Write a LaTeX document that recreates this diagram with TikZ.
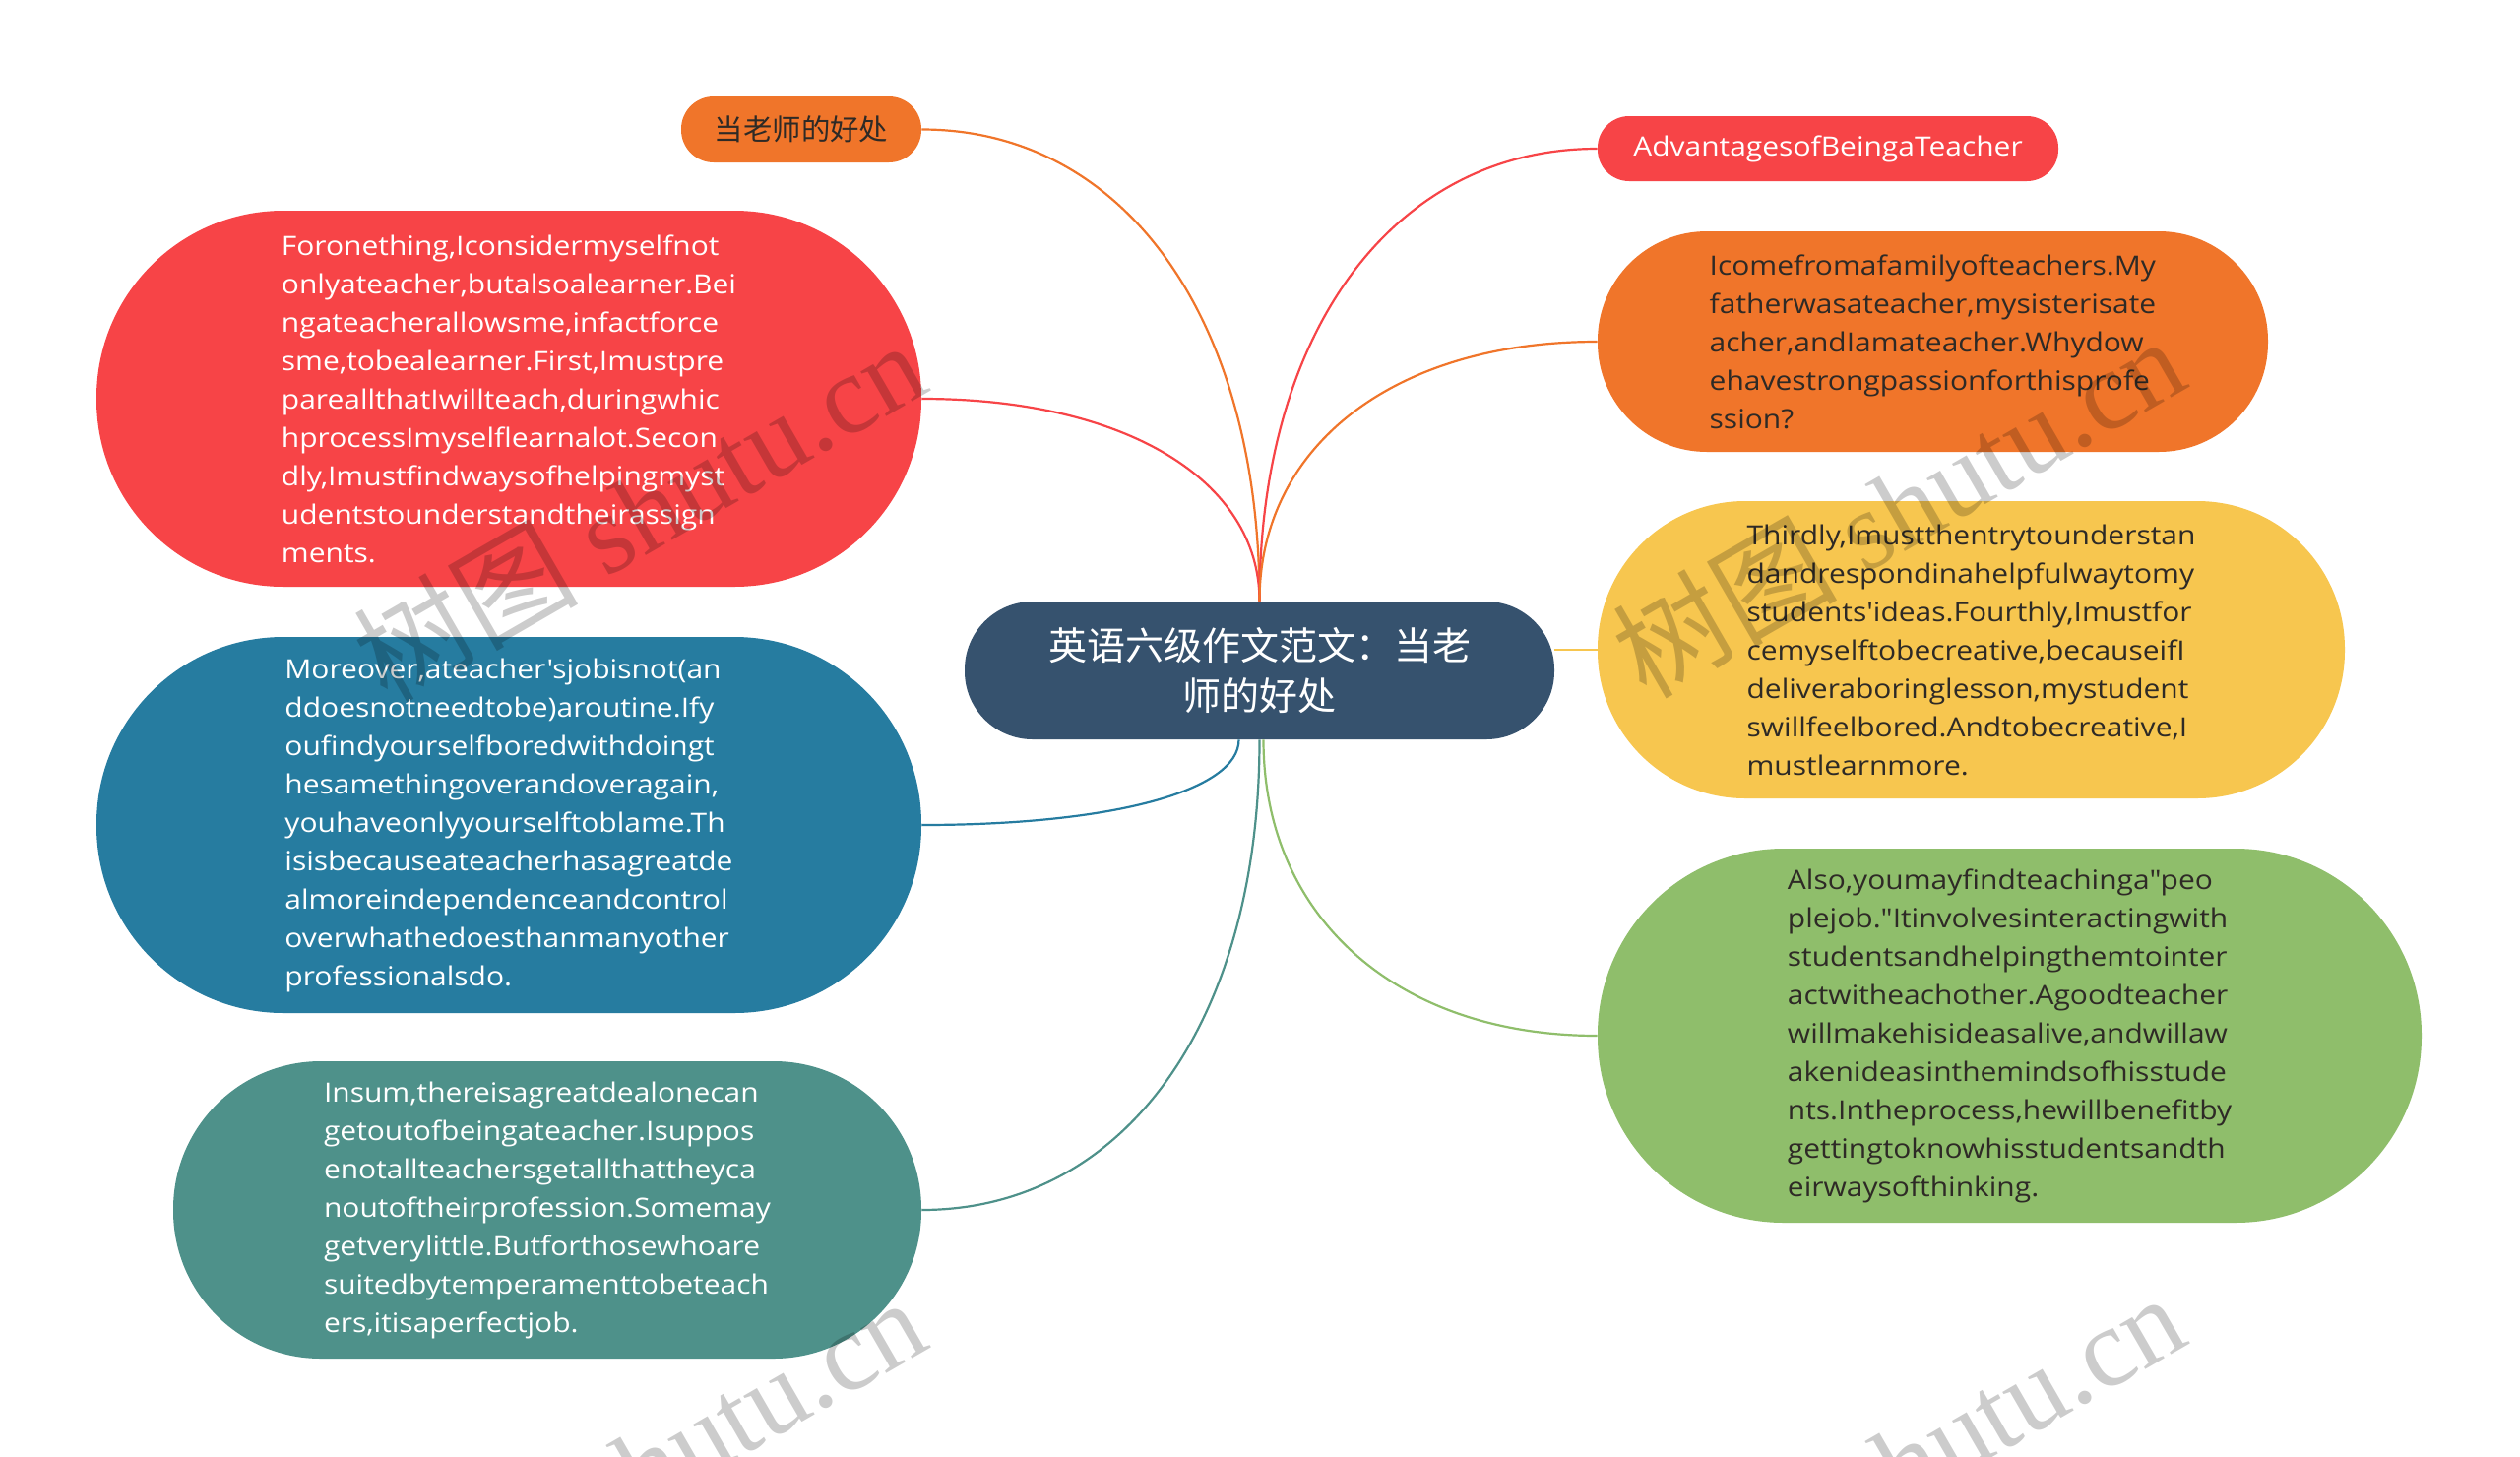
\documentclass[tikz,border=0pt]{standalone}
\usepackage{fontspec}
\usetikzlibrary{calc}
\newfontfamily\bodyfont{Open Sans}[FakeStretch=1.11]
\newfontfamily\cjk{Noto Sans CJK SC}
\newfontfamily\wmfont{Liberation Serif}
\definecolor{cRed}{HTML}{F74447}
\definecolor{cOrange}{HTML}{F0752A}
\definecolor{cYellow}{HTML}{F7C64F}
\definecolor{cGreen}{HTML}{8FBE6B}
\definecolor{cBlue}{HTML}{267CA0}
\definecolor{cTeal}{HTML}{4E918A}
\definecolor{cCenter}{HTML}{36526E}
\definecolor{cDark}{HTML}{2E2A26}
\tikzset{
  bub/.style={rectangle, draw=none, align=left, inner sep=0pt,
    font=\bodyfont\fontsize{13.5}{19.5}\selectfont},
  link/.style={line width=1.1pt},
  wm/.style={text=black, text opacity=0.2, rotate=30, inner sep=0pt,
    font=\wmfont\fontsize{57}{60}\selectfont}
}
\begin{document}
\begin{tikzpicture}[x=0.5pt,y=-0.5pt]
\useasboundingbox (0,0) rectangle (2560,1479);
\fill[white] (0,0) rectangle (2560,1479);

% center
\node[bub, fill=cCenter, text=white, align=center, minimum width=299.5pt, minimum height=70pt,
  rounded corners=34.5pt, font=\cjk\fontsize{19.5}{25.3}\selectfont] (c) at (1279.5,681)
  {英语六级作文范文：当老\\师的好处};

% left
\node[bub, fill=cOrange, text=cDark, minimum width=122pt, minimum height=33.5pt,
  rounded corners=16.5pt, font=\cjk\fontsize{14.7}{18}\selectfont] (l1) at (814,131.5) {当老师的好处};

\node[bub, fill=cRed, text=white, minimum width=419pt, minimum height=191pt,
  rounded corners=95pt] (l2) at (517,405)
  {Foronething,Iconsidermyselfnot\\
   onlyateacher,butalsoalearner.Bei\\
   ngateacherallowsme,infactforce\\
   sme,tobealearner.First,Imustpre\\
   pareallthatIwillteach,duringwhic\\
   hprocessImyselflearnalot.Secon\\
   dly,Imustfindwaysofhelpingmyst\\
   udentstounderstandtheirassign\\
   ments.};

\node[bub, fill=cBlue, text=white, minimum width=419pt, minimum height=191pt,
  rounded corners=95pt] (l3) at (517,838)
  {Moreover,ateacher'sjobisnot(an\\
   ddoesnotneedtobe)aroutine.Ify\\
   oufindyourselfboredwithdoingt\\
   hesamethingoverandoveragain,\\
   youhaveonlyyourselftoblame.Th\\
   isisbecauseateacherhasagreatde\\
   almoreindependenceandcontrol\\
   overwhathedoesthanmanyother\\
   professionalsdo.};

\node[bub, fill=cTeal, text=white, minimum width=380pt, minimum height=151pt,
  rounded corners=75pt] (l4) at (556,1229)
  {Insum,thereisagreatdealonecan\\
   getoutofbeingateacher.Isuppos\\
   enotallteachersgetallthattheyca\\
   noutoftheirprofession.Somemay\\
   getverylittle.Butforthosewhoare\\
   suitedbytemperamenttobeteach\\
   ers,itisaperfectjob.};

% right
\node[bub, fill=cRed, text=white, minimum width=234pt, minimum height=33pt,
  rounded corners=16pt] (r1) at (1857,151) {AdvantagesofBeingaTeacher};

\node[bub, fill=cOrange, text=cDark, minimum width=340.5pt, minimum height=112pt,
  rounded corners=55.5pt] (r2) at (1963.5,347)
  {Icomefromafamilyofteachers.My\\
   fatherwasateacher,mysisterisate\\
   acher,andIamateacher.Whydow\\
   ehavestrongpassionforthisprofe\\
   ssion?};

\node[bub, fill=cYellow, text=cDark, minimum width=379.5pt, minimum height=151pt,
  rounded corners=75pt] (r3) at (2002.5,660)
  {Thirdly,Imustthentrytounderstan\\
   dandrespondinahelpfulwaytomy\\
   students'ideas.Fourthly,Imustfor\\
   cemyselftobecreative,becauseifI\\
   deliveraboringlesson,mystudent\\
   swillfeelbored.Andtobecreative,I\\
   mustlearnmore.};

\node[bub, fill=cGreen, text=cDark, minimum width=418.5pt, minimum height=190pt,
  rounded corners=94.5pt] (r4) at (2041.5,1052)
  {Also,youmayfindteachinga"peo\\
   plejob."Itinvolvesinteractingwith\\
   studentsandhelpingthemtointer\\
   actwitheachother.Agoodteacher\\
   willmakehisideasalive,andwillaw\\
   akenideasinthemindsofhisstude\\
   nts.Intheprocess,hewillbenefitby\\
   gettingtoknowhisstudentsandth\\
   eirwaysofthinking.};

% connectors
\coordinate (ct) at (c.north);
\coordinate (cbl) at ([xshift=-10.5pt]c.south);
\coordinate (cb) at (c.south);
\coordinate (cbr) at ([xshift=2pt]c.south);
\draw[link, cOrange] (ct) .. controls ($(ct)!0.6!(ct |- l1.east)$) and ($(l1.east)!0.6!(ct |- l1.east)$) .. (l1.east);
\draw[link, cRed] (ct) .. controls ($(ct)!0.6!(ct |- l2.east)$) and ($(l2.east)!0.6!(ct |- l2.east)$) .. (l2.east);
\draw[link, cRed] (ct) .. controls ($(ct)!0.6!(ct |- r1.west)$) and ($(r1.west)!0.6!(ct |- r1.west)$) .. (r1.west);
\draw[link, cOrange] (ct) .. controls ($(ct)!0.6!(ct |- r2.west)$) and ($(r2.west)!0.6!(ct |- r2.west)$) .. (r2.west);
\draw[link, cYellow] (c.east |- r3.west) -- (r3.west);
\draw[link, cBlue] (cbl) .. controls ($(cbl)!0.6!(cbl |- l3.east)$) and ($(l3.east)!0.6!(cbl |- l3.east)$) .. (l3.east);
\draw[link, cTeal] (cb) .. controls ($(cb)!0.6!(cb |- l4.east)$) and ($(l4.east)!0.6!(cb |- l4.east)$) .. (l4.east);
\draw[link, cGreen] (cbr) .. controls ($(cbr)!0.6!(cbr |- r4.west)$) and ($(r4.west)!0.6!(cbr |- r4.west)$) .. (r4.west);

% watermarks
\node[wm] (w1) at (649,518) {{\cjk 树图} shutu.cn};
\node[wm] (w2) at (1928,514) {{\cjk 树图} shutu.cn};
\node[wm] (w3) at (649,1490) {{\cjk 树图} shutu.cn};
\node[wm] (w4) at (1928,1486) {{\cjk 树图} shutu.cn};
\end{tikzpicture}
\end{document}
